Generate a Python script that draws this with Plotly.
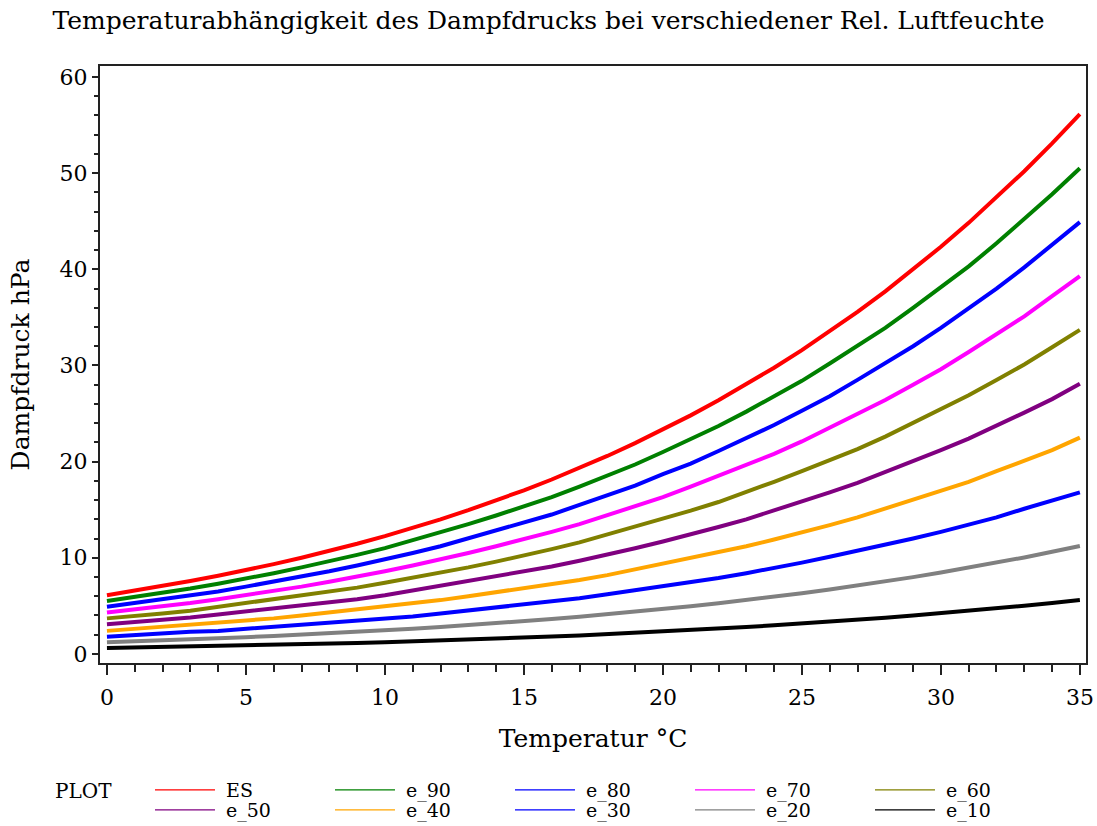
import plotly.graph_objects as go

temperature = list(range(0, 36))

ES = [6.11, 6.57, 7.06, 7.58, 8.13, 8.72, 9.34, 10.01, 10.71, 11.46, 12.26, 13.10, 14.00, 14.95,
      15.95, 17.02, 18.14, 19.33, 20.59, 21.92, 23.33, 24.81, 26.38, 28.03, 29.77, 31.60, 33.53,
      35.57, 37.71, 39.97, 42.34, 44.83, 47.45, 50.20, 53.09, 56.13]
e_90 = [5.5, 5.9, 6.4, 6.8, 7.3, 7.8, 8.4, 9.0, 9.6, 10.3, 11.0, 11.8, 12.6, 13.5, 14.4, 15.3, 16.3,
        17.4, 18.5, 19.7, 21.0, 22.3, 23.7, 25.2, 26.8, 28.4, 30.2, 32.0, 33.9, 36.0, 38.1, 40.3,
        42.7, 45.2, 47.8, 50.5]
e_80 = [4.9, 5.3, 5.6, 6.1, 6.5, 7.0, 7.5, 8.0, 8.6, 9.2, 9.8, 10.5, 11.2, 12.0, 12.8, 13.6, 14.5,
        15.5, 16.5, 17.5, 18.7, 19.8, 21.1, 22.4, 23.8, 25.3, 26.8, 28.5, 30.2, 32.0, 33.9, 35.9,
        38.0, 40.2, 42.5, 44.9]
e_70 = [4.3, 4.6, 4.9, 5.3, 5.7, 6.1, 6.5, 7.0, 7.5, 8.0, 8.6, 9.2, 9.8, 10.5, 11.2, 11.9, 12.7,
        13.5, 14.4, 15.3, 16.3, 17.4, 18.5, 19.6, 20.8, 22.1, 23.5, 24.9, 26.4, 28.0, 29.6, 31.4,
        33.2, 35.1, 37.2, 39.3]
e_60 = [3.7, 3.9, 4.2, 4.5, 4.9, 5.2, 5.6, 6.0, 6.4, 6.9, 7.4, 7.9, 8.4, 9.0, 9.6, 10.2, 10.9,
        11.6, 12.4, 13.2, 14.0, 14.9, 15.8, 16.8, 17.9, 19.0, 20.1, 21.3, 22.6, 24.0, 25.4, 26.9,
        28.5, 30.1, 31.9, 33.7]
e_50 = [3.1, 3.3, 3.5, 3.8, 4.1, 4.4, 4.7, 5.0, 5.4, 5.7, 6.1, 6.6, 7.0, 7.5, 8.0, 8.5, 9.1, 9.7,
        10.3, 11.0, 11.7, 12.4, 13.2, 14.0, 14.9, 15.8, 16.8, 17.8, 18.9, 20.0, 21.2, 22.4, 23.7,
        25.1, 26.5, 28.1]
e_40 = [2.4, 2.6, 2.8, 3.0, 3.3, 3.5, 3.7, 4.0, 4.3, 4.6, 4.9, 5.2, 5.6, 6.0, 6.4, 6.8, 7.3, 7.7,
        8.2, 8.8, 9.3, 9.9, 10.6, 11.2, 11.9, 12.6, 13.4, 14.2, 15.1, 16.0, 16.9, 17.9, 19.0, 20.1,
        21.2, 22.5]
e_30 = [1.8, 2.0, 2.1, 2.3, 2.4, 2.6, 2.8, 3.0, 3.2, 3.4, 3.7, 3.9, 4.2, 4.5, 4.8, 5.1, 5.4, 5.8,
        6.2, 6.6, 7.0, 7.4, 7.9, 8.4, 8.9, 9.5, 10.1, 10.7, 11.3, 12.0, 12.7, 13.4, 14.2, 15.1,
        15.9, 16.8]
e_20 = [1.22, 1.31, 1.41, 1.52, 1.63, 1.74, 1.87, 2.00, 2.14, 2.29, 2.45, 2.62, 2.80, 2.99, 3.19,
        3.40, 3.63, 3.87, 4.12, 4.38, 4.67, 4.96, 5.28, 5.61, 5.95, 6.32, 6.71, 7.11, 7.54, 7.99,
        8.47, 8.97, 9.49, 10.04, 10.62, 11.23]
e_10 = [0.61, 0.66, 0.71, 0.76, 0.81, 0.87, 0.93, 1.00, 1.07, 1.15, 1.23, 1.31, 1.40, 1.50, 1.60,
        1.70, 1.81, 1.93, 2.06, 2.19, 2.33, 2.48, 2.64, 2.80, 2.98, 3.16, 3.35, 3.56, 3.77, 4.00,
        4.23, 4.48, 4.75, 5.02, 5.31, 5.61]

series_names = ["ES", "e_90", "e_80", "e_70", "e_60", "e_50", "e_40", "e_30", "e_20", "e_10"]
series_values = [ES, e_90, e_80, e_70, e_60, e_50, e_40, e_30, e_20, e_10]
series_colors = ["#FF0000", "#008000", "#0000FF", "#FF00FF", "#808000",
                 "#800080", "#FFA500", "#0000FF", "#808080", "#000000"]

x_ticks = [0, 5, 10, 15, 20, 25, 30, 35]
y_ticks = [0, 10, 20, 30, 40, 50, 60]

FONT = "DejaVu Serif"

fig = go.Figure()

# plotted curves (thick), drawn from the small series first so ES is on top
for name, vals, col in reversed(list(zip(series_names, series_values, series_colors))):
    fig.add_trace(go.Scatter(x=temperature, y=vals, mode="lines", name=name,
                             line=dict(color=col, width=4), showlegend=False,
                             hoverinfo="x+y+name"))

# legend entries (thin lines), two rows
for i, (name, col) in enumerate(zip(series_names, series_colors)):
    fig.add_trace(go.Scatter(x=[None], y=[None], mode="lines", name="\u00a0" + name,
                             line=dict(color=col, width=1.2), showlegend=True,
                             legend="legend" if i < 5 else "legend2"))

legend_common = dict(orientation="h", xanchor="left", yanchor="middle",
                     font=dict(family=FONT, size=19, color="black"),
                     itemwidth=60, entrywidth=105, entrywidthmode="pixels",
                     bgcolor="rgba(0,0,0,0)", borderwidth=0, traceorder="normal",
                     itemclick=False, itemdoubleclick=False)

fig.update_layout(
    width=1097, height=826,
    paper_bgcolor="white", plot_bgcolor="white",
    margin=dict(l=100, r=11, t=66, b=163, autoexpand=False),
    font=dict(family=FONT, size=22, color="black"),
    title=dict(text="Temperaturabhängigkeit des Dampfdrucks bei verschiedener Rel. Luftfeuchte",
               x=0.5, xanchor="center", y=0.975, yanchor="middle",
               font=dict(family=FONT, size=25, color="black")),
    xaxis=dict(range=[-0.25, 35.22], tickvals=x_ticks, ticktext=[str(v) for v in x_ticks],
               ticks="outside", ticklen=10, tickwidth=2, tickcolor="#222",
               minor=dict(ticks="outside", dtick=1, ticklen=7, tickwidth=2, tickcolor="#222"),
               showline=True, linecolor="#222", linewidth=2, mirror=True,
               showgrid=False, zeroline=False, ticklabelstandoff=4,
               title=dict(text="Temperatur °C", standoff=20,
                          font=dict(family=FONT, size=25))),
    yaxis=dict(range=[-0.94, 61.14], tickvals=y_ticks, ticktext=[str(v) for v in y_ticks],
               ticks="outside", ticklen=6, tickwidth=2, tickcolor="#222",
               minor=dict(ticks="outside", dtick=2, ticklen=4, tickwidth=2, tickcolor="#222"),
               showline=True, linecolor="#222", linewidth=2, mirror=True,
               showgrid=False, zeroline=False,
               title=dict(text="Dampfdruck hPa", standoff=23,
                          font=dict(family=FONT, size=25))),
    legend=dict(x=0.0507, y=-0.2127, **legend_common),
    legend2=dict(x=0.0507, y=-0.2463, **legend_common),
    annotations=[dict(text="PLOT", xref="paper", yref="paper", x=-0.048, y=-0.2144,
                      xanchor="left", yanchor="middle", showarrow=False,
                      font=dict(family=FONT, size=20, color="black"))],
    showlegend=True,
)

fig.write_html("out.html", config={"displayModeBar": False},
               post_script="document.body.style.margin='0';")
